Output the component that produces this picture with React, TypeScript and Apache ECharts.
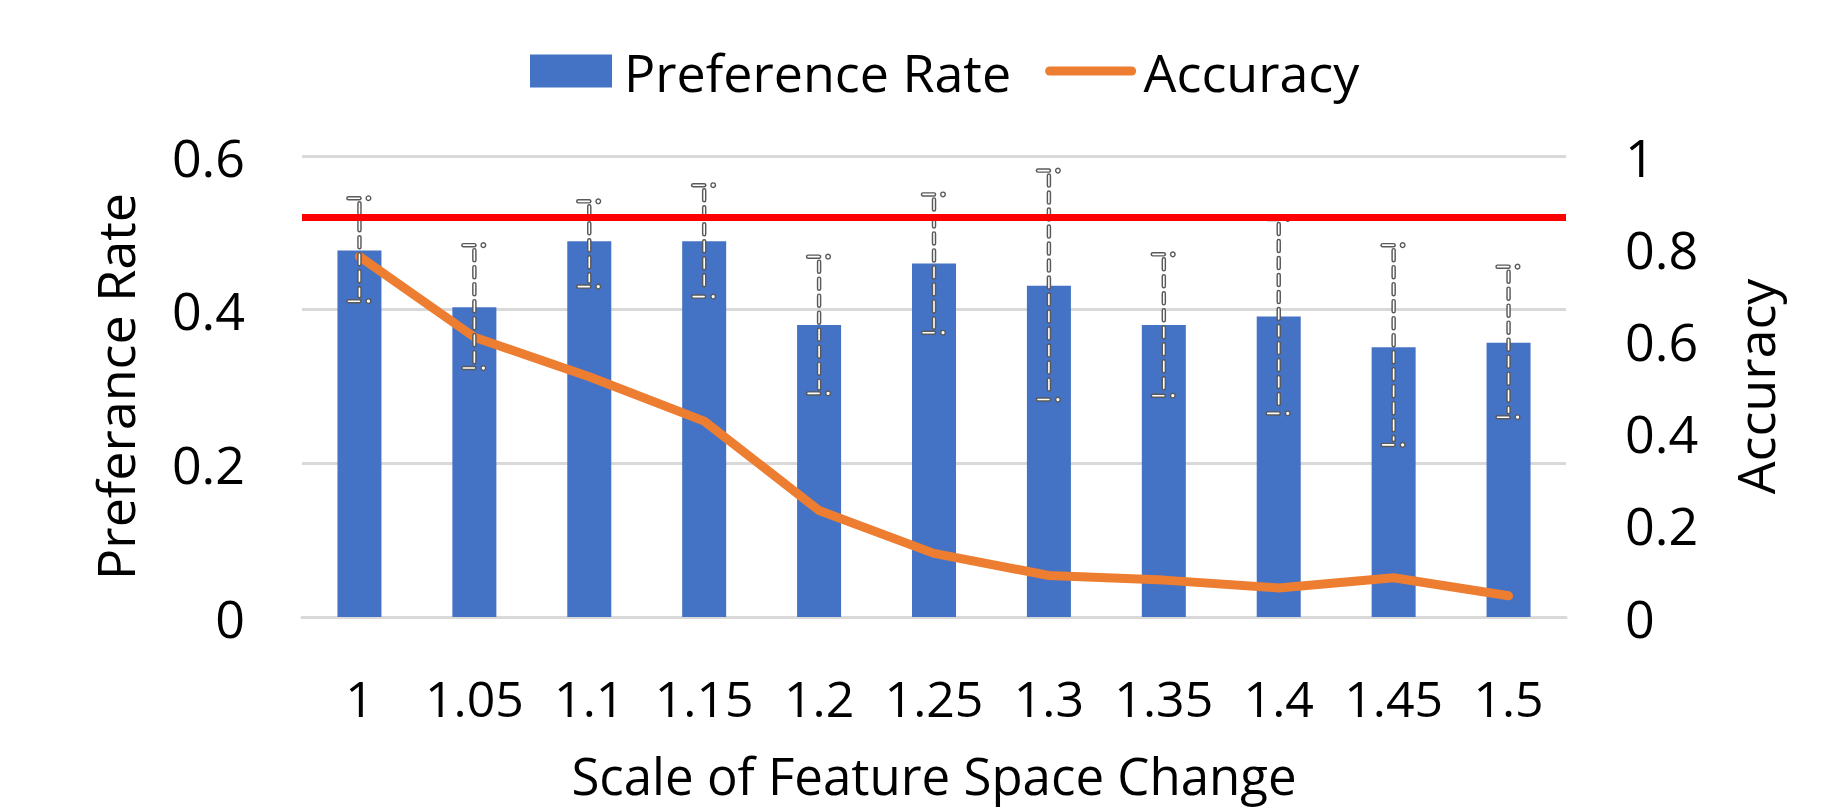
import React, { useEffect, useRef } from "react";
import * as echarts from "echarts";

const categories = ["1", "1.05", "1.1", "1.15", "1.2", "1.25", "1.3", "1.35", "1.4", "1.45", "1.5"];
const preferenceRate = [0.477, 0.403, 0.489, 0.489, 0.38, 0.46, 0.431, 0.38, 0.391, 0.351, 0.357];
const errorHigh = [0.545, 0.484, 0.541, 0.562, 0.469, 0.55, 0.581, 0.472, 0.518, 0.484, 0.456];
const errorLow = [0.411, 0.324, 0.43, 0.417, 0.291, 0.37, 0.283, 0.288, 0.265, 0.224, 0.26];
const accuracy = [0.782, 0.607, 0.521, 0.425, 0.231, 0.138, 0.09, 0.08, 0.063, 0.085, 0.046];
const referenceLevel = 0.522;

const FONT = "Open Sans";
const GRAY = "#595959";

export default function App() {
  const ref = useRef<HTMLDivElement>(null);

  useEffect(() => {
    if (!ref.current) return;
    const chart = echarts.init(ref.current, null, { renderer: "svg" });

    const errorData = categories.map((_, i) => [i, errorLow[i], errorHigh[i]]);

    const renderError = (params: any, api: any) => {
      const idx = api.value(0);
      const lo = api.coord([idx, api.value(1)]);
      const hi = api.coord([idx, api.value(2)]);
      const x = hi[0];
      const dash = [10, 7];
      const capShape = (y: number) => [
        {
          type: "line",
          shape: { x1: x - 11, y1: y, x2: x, y2: y },
          style: { stroke: GRAY, lineWidth: 4.5, lineCap: "round" },
        },
        {
          type: "line",
          shape: { x1: x - 11, y1: y, x2: x, y2: y },
          style: { stroke: "#ffffff", lineWidth: 1.6, lineCap: "round" },
        },
        {
          type: "circle",
          shape: { cx: x + 9, cy: y, r: 2.3 },
          style: { fill: "#ffffff", stroke: GRAY, lineWidth: 1.4 },
        },
      ];
      return {
        type: "group",
        children: [
          {
            type: "line",
            shape: { x1: x, y1: hi[1] + 5, x2: x, y2: lo[1] - 5 },
            style: { stroke: GRAY, lineWidth: 4.5, lineDash: dash, lineCap: "round" },
          },
          {
            type: "line",
            shape: { x1: x, y1: hi[1] + 5, x2: x, y2: lo[1] - 5 },
            style: { stroke: "#ffffff", lineWidth: 1.6, lineDash: dash, lineCap: "round" },
          },
          ...capShape(hi[1]),
          ...capShape(lo[1]),
        ],
      };
    };

    const option: any = {
      animation: false,
      backgroundColor: "#ffffff",
      textStyle: { fontFamily: FONT },
      legend: {
        left: 525,
        top: 40,
        itemWidth: 82,
        itemHeight: 33,
        itemGap: 34,
        textStyle: { fontFamily: FONT, fontSize: 52, color: "#000000", padding: [0, 0, 0, 7] },
        data: [
          { name: "Preference Rate", icon: "rect" },
          {
            name: "Accuracy",
            lineStyle: { width: 9, cap: "round" },
            itemStyle: { opacity: 0, borderWidth: 0 },
          },
        ],
      },
      grid: { left: 302, right: 276, top: 156, bottom: 195, containLabel: false },
      xAxis: {
        type: "category",
        data: categories,
        name: "Scale of Feature Space Change",
        nameLocation: "middle",
        nameGap: 132,
        nameTextStyle: { fontFamily: FONT, fontSize: 51, lineHeight: 52, color: "#000000" },
        axisLabel: { fontFamily: FONT, fontSize: 50, color: "#000000", margin: 56, interval: 0 },
        axisLine: { show: true, lineStyle: { color: "#D9D9D9", width: 3 } },
        axisTick: { show: false },
      },
      yAxis: [
        {
          type: "value",
          min: 0,
          max: 0.6,
          interval: 0.2,
          position: "left",
          name: "Preferance Rate",
          nameLocation: "middle",
          nameRotate: 90,
          nameGap: 162,
          nameTextStyle: { fontFamily: FONT, fontSize: 52, color: "#000000" },
          axisLabel: { fontFamily: FONT, fontSize: 52, color: "#000000", margin: 57 },
          axisLine: { show: false },
          axisTick: { show: false },
          splitLine: { lineStyle: { color: "#D9D9D9", width: 3 } },
        },
        {
          type: "value",
          min: 0,
          max: 1,
          interval: 0.2,
          position: "right",
          name: "Accuracy",
          nameLocation: "middle",
          nameRotate: 90,
          nameGap: 162,
          nameTextStyle: { fontFamily: FONT, fontSize: 52, color: "#000000" },
          axisLabel: { fontFamily: FONT, fontSize: 52, color: "#000000", margin: 59 },
          axisLine: { show: false },
          axisTick: { show: false },
          splitLine: { show: false },
        },
      ],
      series: [
        {
          name: "Preference Rate",
          type: "bar",
          yAxisIndex: 0,
          data: preferenceRate,
          barWidth: 44,
          itemStyle: { color: "#4472C4" },
          z: 2,
        },
        {
          name: "Accuracy",
          type: "line",
          yAxisIndex: 1,
          data: accuracy,
          symbol: "none",
          showSymbol: false,
          lineStyle: { color: "#ED7D31", width: 9, cap: "round", join: "round" },
          itemStyle: { color: "#ED7D31" },
          z: 3,
        },
        {
          name: "Error",
          type: "custom",
          yAxisIndex: 0,
          data: errorData,
          renderItem: renderError,
          encode: { x: 0, y: [1, 2] },
          z: 4,
          silent: true,
          markLine: {
            silent: true,
            symbol: "none",
            label: { show: false },
            lineStyle: { color: "#FF0000", width: 7, type: "solid" },
            data: [{ yAxis: referenceLevel }],
          },
        },
      ],
    };

    chart.setOption(option);
    return () => chart.dispose();
  }, []);

  return (
    <div
      ref={ref}
      style={{ position: "fixed", left: 0, top: 0, width: "1842px", height: "812px" }}
    />
  );
}
